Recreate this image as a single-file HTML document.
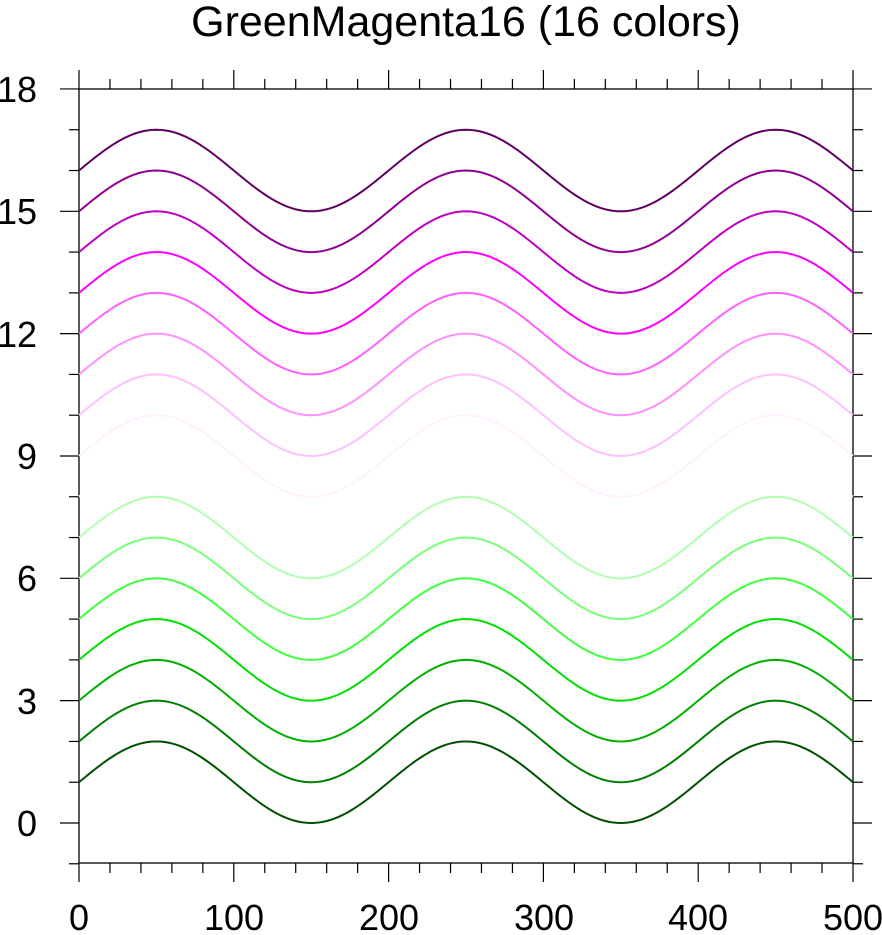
<!DOCTYPE html>
<html><head><style>body{margin:0;background:#fff}svg{display:block}</style></head>
<body>
<svg id="s" width="882" height="935" xmlns="http://www.w3.org/2000/svg" font-family="Liberation Sans, sans-serif">
<text x="466" y="36" font-size="43" text-anchor="middle">GreenMagenta16 (16 colors)</text>
<rect x="79" y="89" width="774" height="774" fill="none" stroke="#000" stroke-width="1.3"/>
<g id="ticks" stroke="#000" stroke-width="1.2"></g>
<g id="lines" fill="none" stroke-width="2"></g>
<g font-size="36" text-anchor="end">
<text x="37" y="836">0</text><text x="37" y="714">3</text><text x="37" y="591">6</text><text x="37" y="469">9</text><text x="37" y="347">12</text><text x="37" y="224">15</text><text x="37" y="102">18</text>
</g>
<g font-size="36" text-anchor="middle">
<text x="79" y="930">0</text><text x="234" y="930">100</text><text x="389" y="930">200</text><text x="544" y="930">300</text><text x="698" y="930">400</text><text x="853" y="930">500</text>
</g>
</svg>
<script>
var X=v=>79+v*774/500, Y=v=>823-v*40.78;
var cols=["#005000","#008000","#00b000","#00e000","#40ff40","#78ff78","#b0ffb0","#ffffff","#fff0ff","#ffc0ff","#ff90ff","#ff60ff","#ff00ff","#c000c0","#900090","#600060"];
var g=document.getElementById('lines'),t=document.getElementById('ticks'),h='',k='';
for(var i=0;i<16;i++){var d='';for(var x=0;x<=500;x+=2){d+=(x?'L':'M')+X(x).toFixed(2)+' '+Y(i+1+Math.sin(2*Math.PI*x/200)).toFixed(2);}
h+='<path d="'+d+'" stroke="'+cols[i]+'"/>';}
g.innerHTML=h;
for(var v=-1;v<=18;v++){var y=Y(v),L=(v%3==0)?19:10;k+='<line x1="'+(79-L)+'" y1="'+y+'" x2="79" y2="'+y+'"/><line x1="853" y1="'+y+'" x2="'+(853+L)+'" y2="'+y+'"/>';}
for(var v=0;v<=500;v+=20){var x=X(v),L=(v%100==0)?19:10;k+='<line x1="'+x+'" y1="863" x2="'+x+'" y2="'+(863+L)+'"/><line x1="'+x+'" y1="89" x2="'+x+'" y2="'+(89-L)+'"/>';}
t.innerHTML=k;
</script>
</body></html>
